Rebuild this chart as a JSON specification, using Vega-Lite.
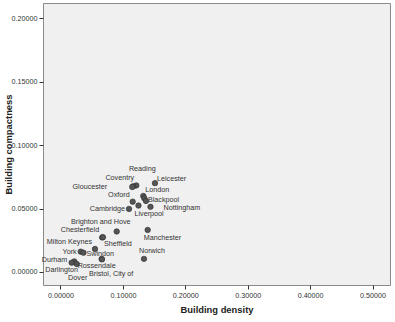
{
  "$schema": "https://vega.github.io/schema/vega-lite/v6.json",
  "autosize": "none",
  "width": 347,
  "height": 282,
  "padding": {"left": 43, "top": 3, "right": 5, "bottom": 37},
  "background": "white",
  "config": {
    "view": {"fill": "#f0f0f0", "stroke": "#8a8a8a", "strokeWidth": 1},
    "font": "Liberation Sans",
    "axis": {
      "domain": false,
      "grid": false,
      "tickColor": "#333",
      "tickSize": 4,
      "labelFont": "Liberation Sans",
      "labelFontSize": 7.2,
      "labelColor": "#333",
      "labelPadding": 2,
      "titleFont": "Liberation Sans",
      "titleFontSize": 9.4,
      "titleFontWeight": "bold",
      "titleColor": "#222"
    },
    "text": {"font": "Liberation Sans", "fontSize": 7.2, "color": "#333333", "baseline": "middle"}
  },
  "data": {
    "values": [
      {"city": "Reading", "density": 0.1215, "compactness": 0.0682},
      {"city": "Coventry", "density": 0.1165, "compactness": 0.0675},
      {"city": "Gloucester", "density": 0.115, "compactness": 0.067},
      {"city": "Leicester", "density": 0.1514, "compactness": 0.07},
      {"city": "London", "density": 0.1327, "compactness": 0.0599},
      {"city": "", "density": 0.1343, "compactness": 0.0581},
      {"city": "Blackpool", "density": 0.137, "compactness": 0.056},
      {"city": "Oxford", "density": 0.1157, "compactness": 0.0554},
      {"city": "Liverpool", "density": 0.125, "compactness": 0.0523},
      {"city": "Nottingham", "density": 0.1442, "compactness": 0.0513},
      {"city": "Cambridge", "density": 0.1098, "compactness": 0.0497},
      {"city": "Brighton and Hove", "density": 0.0901, "compactness": 0.0319},
      {"city": "Manchester", "density": 0.1397, "compactness": 0.0331},
      {"city": "Chesterfield", "density": 0.0668, "compactness": 0.0272},
      {"city": "Sheffield", "density": 0.0681, "compactness": 0.0274},
      {"city": "Milton Keynes", "density": 0.0553, "compactness": 0.0181},
      {"city": "York", "density": 0.0324, "compactness": 0.016},
      {"city": "Swindon", "density": 0.0369, "compactness": 0.0152},
      {"city": "Norwich", "density": 0.1338, "compactness": 0.0103},
      {"city": "Rossendale", "density": 0.066, "compactness": 0.0103},
      {"city": "Bristol, City of", "density": 0.0665, "compactness": 0.0099},
      {"city": "Durham", "density": 0.0221, "compactness": 0.0083},
      {"city": "Darlington", "density": 0.0179, "compactness": 0.0073},
      {"city": "Dover", "density": 0.026, "compactness": 0.0063}
    ]
  },
  "encoding": {
    "x": {
      "field": "density",
      "type": "quantitative",
      "title": "Building density",
      "scale": {"domain": [-0.028, 0.528], "nice": false, "zero": false},
      "axis": {"values": [0, 0.1, 0.2, 0.3, 0.4, 0.5], "format": ".5f", "titlePadding": 7}
    },
    "y": {
      "field": "compactness",
      "type": "quantitative",
      "title": "Building compactness",
      "scale": {"domain": [-0.0103, 0.212], "nice": false, "zero": false},
      "axis": {"values": [0, 0.05, 0.1, 0.15, 0.2], "format": ".5f", "titlePadding": -2}
    }
  },
  "layer": [
    {"mark": {"type": "point", "filled": true, "size": 30, "fill": "#555555", "stroke": "#2a2a2a", "strokeWidth": 0.6, "opacity": 1}},
    {"transform": [{"filter": {"field": "city", "oneOf": ["Oxford", "Chesterfield", "Milton Keynes"]}}],
     "mark": {"type": "text", "color": "#333333", "align": "right", "dx": -3, "dy": -7}, "encoding": {"text": {"field": "city"}}},
    {"transform": [{"filter": {"field": "city", "oneOf": ["Coventry"]}}],
     "mark": {"type": "text", "color": "#333333", "align": "right", "dx": 1, "dy": -8}, "encoding": {"text": {"field": "city"}}},
    {"transform": [{"filter": {"field": "city", "oneOf": ["Gloucester"]}}],
     "mark": {"type": "text", "color": "#333333", "align": "right", "dx": -25, "dy": 0}, "encoding": {"text": {"field": "city"}}},
    {"transform": [{"filter": {"field": "city", "oneOf": ["Cambridge", "York"]}}],
     "mark": {"type": "text", "color": "#333333", "align": "right", "dx": -4, "dy": 0}, "encoding": {"text": {"field": "city"}}},
    {"transform": [{"filter": {"field": "city", "oneOf": ["Durham"]}}],
     "mark": {"type": "text", "color": "#333333", "align": "right", "dx": -7, "dy": -1}, "encoding": {"text": {"field": "city"}}},
    {"transform": [{"filter": {"field": "city", "oneOf": ["Leicester"]}}],
     "mark": {"type": "text", "color": "#333333", "align": "left", "dx": 2, "dy": -4}, "encoding": {"text": {"field": "city"}}},
    {"transform": [{"filter": {"field": "city", "oneOf": ["London"]}}],
     "mark": {"type": "text", "color": "#333333", "align": "left", "dx": 2, "dy": -6}, "encoding": {"text": {"field": "city"}}},
    {"transform": [{"filter": {"field": "city", "oneOf": ["Blackpool"]}}],
     "mark": {"type": "text", "color": "#333333", "align": "left", "dx": 2, "dy": -1}, "encoding": {"text": {"field": "city"}}},
    {"transform": [{"filter": {"field": "city", "oneOf": ["Nottingham"]}}],
     "mark": {"type": "text", "color": "#333333", "align": "left", "dx": 13, "dy": 1}, "encoding": {"text": {"field": "city"}}},
    {"transform": [{"filter": {"field": "city", "oneOf": ["Liverpool", "Manchester"]}}],
     "mark": {"type": "text", "color": "#333333", "align": "left", "dx": -4, "dy": 8}, "encoding": {"text": {"field": "city"}}},
    {"transform": [{"filter": {"field": "city", "oneOf": ["Sheffield"]}}],
     "mark": {"type": "text", "color": "#333333", "align": "left", "dx": 1, "dy": 7}, "encoding": {"text": {"field": "city"}}},
    {"transform": [{"filter": {"field": "city", "oneOf": ["Swindon"]}}],
     "mark": {"type": "text", "color": "#333333", "align": "left", "dx": 3, "dy": 1}, "encoding": {"text": {"field": "city"}}},
    {"transform": [{"filter": {"field": "city", "oneOf": ["Reading"]}}],
     "mark": {"type": "text", "color": "#333333", "align": "center", "dx": 6, "dy": -16}, "encoding": {"text": {"field": "city"}}},
    {"transform": [{"filter": {"field": "city", "oneOf": ["Norwich"]}}],
     "mark": {"type": "text", "color": "#333333", "align": "center", "dx": 8, "dy": -8}, "encoding": {"text": {"field": "city"}}},
    {"transform": [{"filter": {"field": "city", "oneOf": ["Brighton and Hove"]}}],
     "mark": {"type": "text", "color": "#333333", "align": "center", "dx": -16, "dy": -9}, "encoding": {"text": {"field": "city"}}},
    {"transform": [{"filter": {"field": "city", "oneOf": ["Rossendale"]}}],
     "mark": {"type": "text", "color": "#333333", "align": "center", "dx": -5, "dy": 7}, "encoding": {"text": {"field": "city"}}},
    {"transform": [{"filter": {"field": "city", "oneOf": ["Darlington"]}}],
     "mark": {"type": "text", "color": "#333333", "align": "center", "dx": -10, "dy": 7}, "encoding": {"text": {"field": "city"}}},
    {"transform": [{"filter": {"field": "city", "oneOf": ["Dover"]}}],
     "mark": {"type": "text", "color": "#333333", "align": "center", "dx": 1, "dy": 14}, "encoding": {"text": {"field": "city"}}},
    {"transform": [{"filter": {"field": "city", "oneOf": ["Bristol, City of"]}}],
     "mark": {"type": "text", "color": "#333333", "align": "left", "dx": -13, "dy": 15}, "encoding": {"text": {"field": "city"}}}
  ]
}
